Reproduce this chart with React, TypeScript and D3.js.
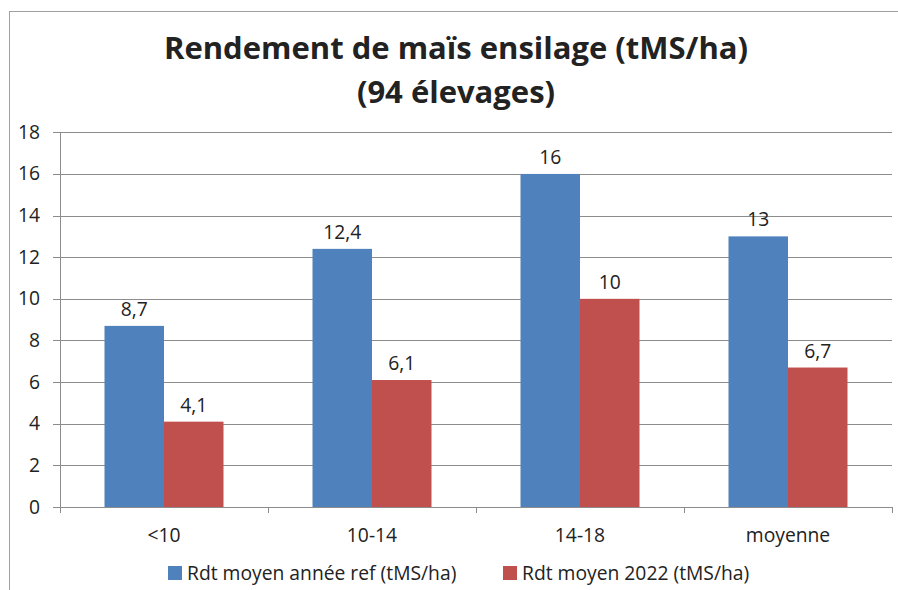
import React from "react";
import * as d3 from "d3";

const categories = ["<10", "10-14", "14-18", "moyenne"];
const seriesNames = ["Rdt moyen année ref (tMS/ha)", "Rdt moyen 2022 (tMS/ha)"];
const refValues = [8.7, 12.4, 16, 13];
const values2022 = [4.1, 6.1, 10, 6.7];
const yTicks = [0, 2, 4, 6, 8, 10, 12, 14, 16, 18];
const colors = ["#4F81BD", "#C0504D"];
const titleLines = ["Rendement de maïs ensilage (tMS/ha)", "(94 élevages)"];

const W = 898, H = 590;
const plot = { left: 60, right: 892, top: 132.3, bottom: 507 };
const font = "'Open Sans', Lato, sans-serif";
const fs = 19.3;

export default function App() {
  const x = d3.scaleBand<string>().domain(categories).range([plot.left, plot.right]);
  const y = d3.scaleLinear().domain([0, 18]).range([plot.bottom, plot.top]);
  const barW = 59.5;
  const series = [refValues, values2022];
  const fmt = (v: number) => String(v).replace(".", ",");
  return (
    <svg width={W} height={H} style={{ position: "absolute", left: 0, top: 0, background: "#fff" }}>
      <rect x={9.5} y={11.5} width={W + 10} height={H + 10} fill="#fff" stroke="#a0a0a0" strokeWidth={1} />
      {titleLines.map((t, i) => (
        <text key={i} x={456} y={59 + i * 44} textAnchor="middle" fontFamily={font} fontWeight="bold" fontSize={31} fill="#222">{t}</text>
      ))}
      {yTicks.map((t) => (
        <g key={t}>
          <line x1={53} x2={plot.right} y1={Math.round(y(t)) + 0.5} y2={Math.round(y(t)) + 0.5} stroke="#8c8c8c" />
          <text x={40} y={y(t) + 6.5} textAnchor="end" fontFamily={font} fontSize={fs} fill="#222">{t}</text>
        </g>
      ))}
      <line x1={plot.left + 0.5} x2={plot.left + 0.5} y1={plot.top} y2={plot.bottom + 6} stroke="#8c8c8c" />
      {d3.range(categories.length + 1).map((i) => {
        const xx = Math.round(plot.left + i * x.step()) + 0.5;
        return <line key={i} x1={xx} x2={xx} y1={plot.bottom} y2={plot.bottom + 6} stroke="#8c8c8c" />;
      })}
      {categories.map((c, ci) => {
        const center = (x(c) as number) + x.bandwidth() / 2;
        return (
          <g key={c}>
            {series.map((s, si) => {
              const bx = center - barW + si * barW;
              return (
                <g key={si}>
                  <rect x={bx} y={y(s[ci])} width={barW} height={plot.bottom - y(s[ci])} fill={colors[si]} />
                  <text x={bx + barW / 2} y={y(s[ci]) - 10} textAnchor="middle" fontFamily={font} fontSize={fs} fill="#222">{fmt(s[ci])}</text>
                </g>
              );
            })}
            <text x={center} y={541.7} textAnchor="middle" fontFamily={font} fontSize={fs} fill="#222">{c}</text>
          </g>
        );
      })}
      {seriesNames.map((n, i) => {
        const lx = [168, 503][i];
        return (
          <g key={n}>
            <rect x={lx} y={566} width={14} height={14} fill={colors[i]} />
            <text x={lx + 19} y={579.5} fontFamily={font} fontSize={fs} fill="#222">{n}</text>
          </g>
        );
      })}
    </svg>
  );
}
